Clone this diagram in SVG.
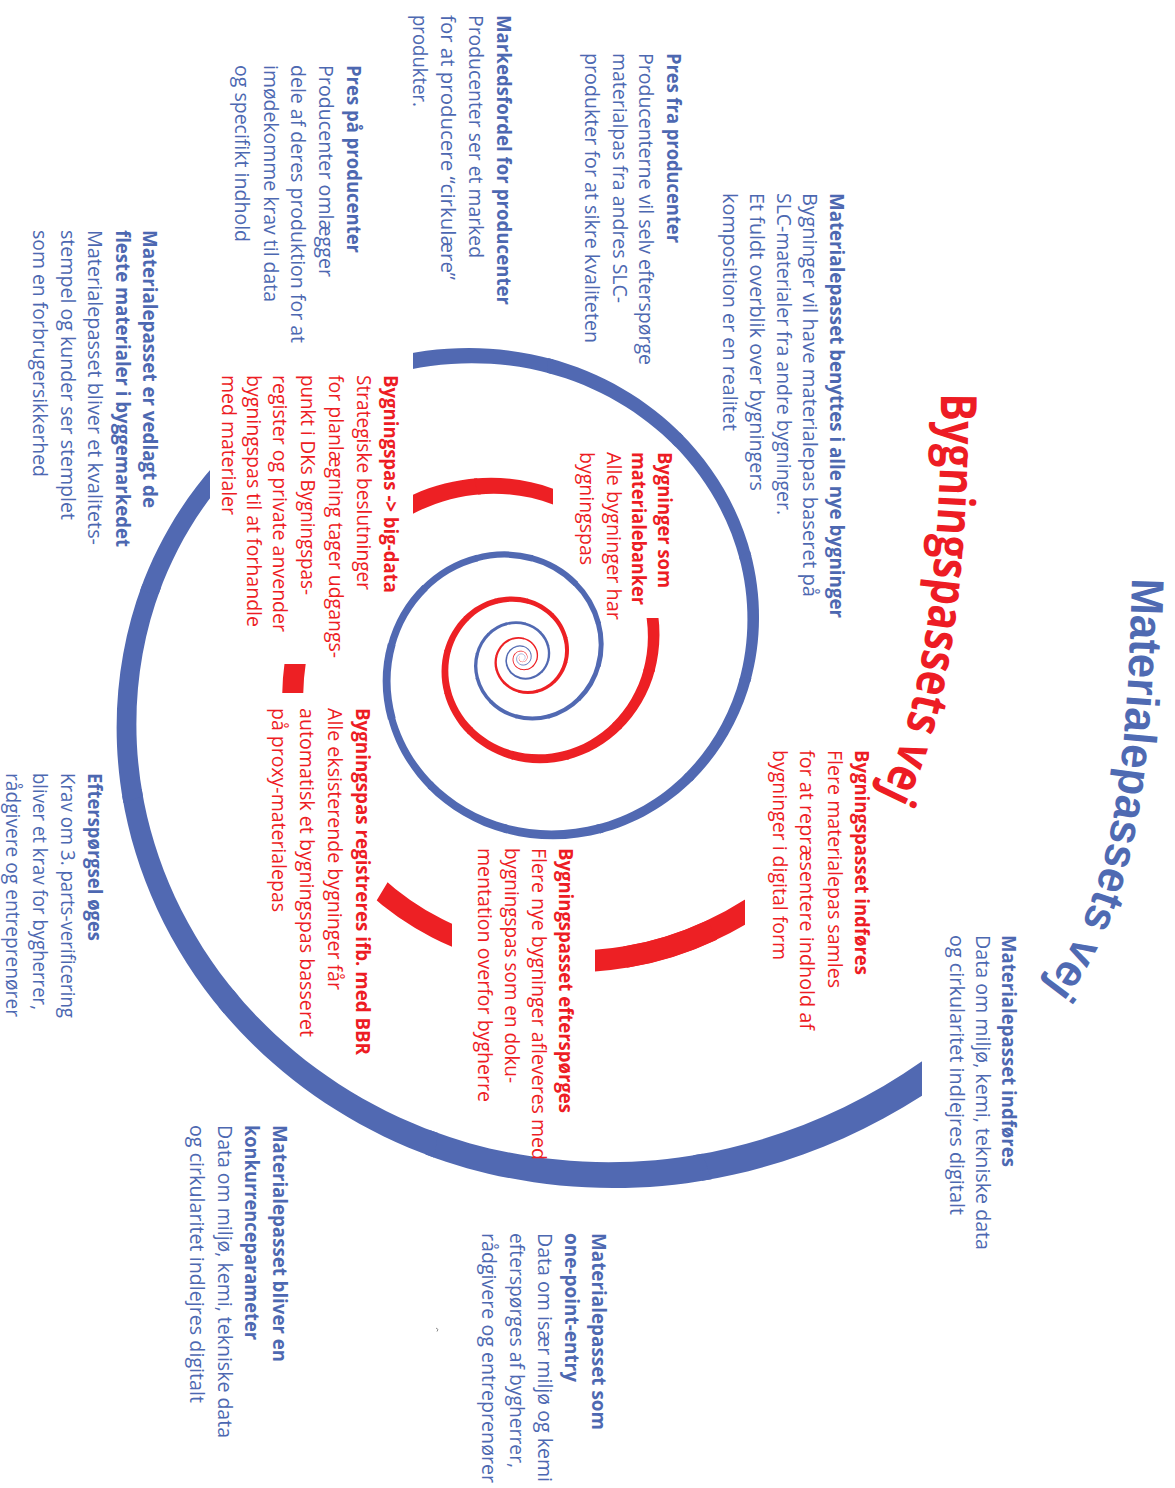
<svg xmlns="http://www.w3.org/2000/svg" width="1175" height="1488" viewBox="0 0 1175 1488">
<style>
text{font-family:"Open Sans","Liberation Sans",sans-serif;font-size:20px}
.tb{fill:#4d68b1}.tr{fill:#ed1c24}.b{font-weight:bold}
.sb{stroke:#5169b2;fill:none}.sr{stroke:#ed2024;fill:none}
.fb{fill:#5169b2;stroke:none}.fr{fill:#ed2024;stroke:none}
.t1{font-family:"Liberation Sans","Open Sans",sans-serif;font-size:46px;font-weight:bold;fill:#4f6ab2}.t2{font-size:50px;font-weight:bold;fill:#ed1c24}
</style>
<defs>
<path id="s" d="M1,0 C0.96921,0.18035 0.89030,0.34310 0.78155,0.46960"/>
<path id="f5" d="M1.025,0 C0.99344,0.18486 0.91256,0.35168 0.80109,0.48134 L0.76201,0.45786 C0.86804,0.33452 0.94498,0.17584 0.975,0 Z"/>
<path id="f8" d="M1.044,0 C1.01186,0.18829 0.92947,0.35820 0.81594,0.49026 L0.74716,0.44894 C0.85113,0.32800 0.92656,0.17241 0.956,0 Z"/>
<path id="f9" d="M1.046,0 C1.01379,0.18865 0.93125,0.35888 0.81750,0.49120 L0.74560,0.44800 C0.84935,0.32732 0.92463,0.17205 0.954,0 Z"/>
<path id="tpB" d="M1132,578 C1127,758 1117,900 1040,992"/>
<path id="tpR" d="M941,393 C941,560 925,710 877,800"/>
<clipPath id="cA"><path d="M0,0H210V500H922V1488H0Z"/></clipPath>
<clipPath id="cB"><path d="M413,0H1175V1488H0V420H413Z"/></clipPath>
<clipPath id="c1"><rect x="595" y="0" width="150" height="1488"/></clipPath>
<clipPath id="c2"><path d="M452,700V1000L316,1001L430,812Z"/></clipPath>
<clipPath id="c3"><rect x="200" y="664" width="200" height="29"/></clipPath>
<clipPath id="c4"><rect x="413" y="0" width="140" height="600"/></clipPath>
<clipPath id="c5"><path d="M0,0H600V618H1175V1488H0Z"/></clipPath>
</defs>
<rect width="1175" height="1488" fill="#ffffff"/>
<g id="spiral">
<g id="blueA" clip-path="url(#cA)"><g class="fb" transform="translate(522 658)">
<use href="#f5" transform="rotate(40) scale(591.69)"/>
<use href="#f5" transform="rotate(70) scale(541.09)"/>
<use href="#f5" transform="rotate(100) scale(494.82)"/>
<use href="#f5" transform="rotate(130) scale(452.5)"/>
<use href="#f5" transform="rotate(160) scale(413.8)"/>
<use href="#f5" transform="rotate(190) scale(378.41)"/>
</g></g>
<g id="blueB" clip-path="url(#cB)"><g transform="translate(522 658)">
<g class="fb">
<use href="#f5" transform="rotate(245) scale(321.2)"/>
<use href="#f5" transform="rotate(275) scale(293.73)"/>
<use href="#f5" transform="rotate(305) scale(268.61)"/>
<use href="#f5" transform="rotate(335) scale(245.64)"/>
<use href="#f5" transform="rotate(365) scale(224.63)"/>
<use href="#f5" transform="rotate(395) scale(205.42)"/>
<use href="#f5" transform="rotate(425) scale(187.85)"/>
<use href="#f5" transform="rotate(455) scale(171.79)"/>
<use href="#f5" transform="rotate(485) scale(157.1)"/>
</g>
<g class="sb">
<use href="#s" transform="rotate(515) scale(143.67)" stroke-width="0.0548"/>
<use href="#s" transform="rotate(545) scale(131.38)" stroke-width="0.0554"/>
<use href="#s" transform="rotate(575) scale(120.14)" stroke-width="0.0561"/>
<use href="#s" transform="rotate(605) scale(109.87)" stroke-width="0.0569"/>
<use href="#s" transform="rotate(635) scale(100.47)" stroke-width="0.0578"/>
<use href="#s" transform="rotate(665) scale(91.88)" stroke-width="0.0587"/>
<use href="#s" transform="rotate(695) scale(84.02)" stroke-width="0.0597"/>
<use href="#s" transform="rotate(725) scale(76.83)" stroke-width="0.0608"/>
<use href="#s" transform="rotate(755) scale(70.26)" stroke-width="0.062"/>
<use href="#s" transform="rotate(785) scale(64.25)" stroke-width="0.0634"/>
<use href="#s" transform="rotate(815) scale(58.76)" stroke-width="0.0648"/>
<use href="#s" transform="rotate(845) scale(53.73)" stroke-width="0.0664"/>
<use href="#s" transform="rotate(875) scale(49.14)" stroke-width="0.0682"/>
<use href="#s" transform="rotate(905) scale(44.94)" stroke-width="0.0701"/>
<use href="#s" transform="rotate(935) scale(41.1)" stroke-width="0.0721"/>
<use href="#s" transform="rotate(965) scale(37.59)" stroke-width="0.0744"/>
<use href="#s" transform="rotate(995) scale(34.38)" stroke-width="0.0769"/>
<use href="#s" transform="rotate(1025) scale(31.44)" stroke-width="0.0796"/>
<use href="#s" transform="rotate(1055) scale(28.75)" stroke-width="0.0826"/>
<use href="#s" transform="rotate(1085) scale(26.29)" stroke-width="0.0858"/>
<use href="#s" transform="rotate(1115) scale(24.04)" stroke-width="0.0894"/>
<use href="#s" transform="rotate(1145) scale(21.98)" stroke-width="0.0933"/>
<use href="#s" transform="rotate(1175) scale(20.1)" stroke-width="0.095"/>
<use href="#s" transform="rotate(1205) scale(18.38)" stroke-width="0.095"/>
<use href="#s" transform="rotate(1235) scale(16.81)" stroke-width="0.095"/>
<use href="#s" transform="rotate(1265) scale(15.37)" stroke-width="0.095"/>
<use href="#s" transform="rotate(1295) scale(14.06)" stroke-width="0.095"/>
<use href="#s" transform="rotate(1325) scale(12.86)" stroke-width="0.095"/>
<use href="#s" transform="rotate(1355) scale(11.76)" stroke-width="0.095"/>
<use href="#s" transform="rotate(1385) scale(10.75)" stroke-width="0.095"/>
<use href="#s" transform="rotate(1415) scale(9.83)" stroke-width="0.095"/>
<use href="#s" transform="rotate(1445) scale(8.99)" stroke-width="0.095"/>
<use href="#s" transform="rotate(1475) scale(8.22)" stroke-width="0.095"/>
<use href="#s" transform="rotate(1505) scale(7.52)" stroke-width="0.095"/>
<use href="#s" transform="rotate(1535) scale(6.88)" stroke-width="0.095"/>
<use href="#s" transform="rotate(1565) scale(6.29)" stroke-width="0.095"/>
<use href="#s" transform="rotate(1595) scale(5.75)" stroke-width="0.095"/>
<use href="#s" transform="rotate(1625) scale(5.26)" stroke-width="0.095"/>
<use href="#s" transform="rotate(1655) scale(4.81)" stroke-width="0.095"/>
<use href="#s" transform="rotate(1685) scale(4.4)" stroke-width="0.095"/>
<use href="#s" transform="rotate(1715) scale(4.02)" stroke-width="0.095"/>
<use href="#s" transform="rotate(1745) scale(3.68)" stroke-width="0.095"/>
<use href="#s" transform="rotate(1775) scale(3.37)" stroke-width="0.095"/>
<use href="#s" transform="rotate(1805) scale(3.08)" stroke-width="0.095"/>
<use href="#s" transform="rotate(1835) scale(2.82)" stroke-width="0.095"/>
</g>
</g></g>
<g id="red1" clip-path="url(#c1)"><g class="sr" transform="translate(522 658)">
<use href="#s" transform="rotate(40) scale(347)" stroke-width="0.062"/>
<use href="#s" transform="rotate(55) scale(331.9)" stroke-width="0.065"/>
</g></g>
<g id="red2" clip-path="url(#c2)"><g class="sr" transform="translate(522 658)">
<use href="#s" transform="rotate(92) scale(296.7)" stroke-width="0.0708"/>
</g></g>
<g id="red3" clip-path="url(#c3)"><g class="sr" transform="translate(522 658)">
<use href="#s" transform="rotate(160) scale(239.7)" stroke-width="0.0876"/>
</g></g>
<g id="red4" clip-path="url(#c4)"><g class="fr" transform="translate(522 658)">
<use href="#f9" transform="rotate(225) scale(194.15)"/>
<use href="#f9" transform="rotate(255) scale(177.55)"/>
</g></g>
<g id="red5" clip-path="url(#c5)"><g class="fr" transform="translate(522 658)">
<use href="#f8" transform="rotate(335) scale(139.89)"/>
<use href="#f8" transform="rotate(365) scale(127.93)"/>
<use href="#f8" transform="rotate(395) scale(116.99)"/>
<use href="#f8" transform="rotate(425) scale(106.99)"/>
<use href="#f8" transform="rotate(455) scale(97.84)"/>
<use href="#f8" transform="rotate(485) scale(89.47)"/>
<use href="#f8" transform="rotate(515) scale(81.82)"/>
<use href="#f8" transform="rotate(545) scale(74.82)"/>
<use href="#f8" transform="rotate(575) scale(68.42)"/>
<use href="#f8" transform="rotate(605) scale(62.57)"/>
<use href="#f8" transform="rotate(635) scale(57.22)"/>
<use href="#f8" transform="rotate(665) scale(52.33)"/>
<use href="#f8" transform="rotate(695) scale(47.85)"/>
<use href="#f8" transform="rotate(725) scale(43.76)"/>
<use href="#f8" transform="rotate(755) scale(40.02)"/>
<use href="#f8" transform="rotate(785) scale(36.6)"/>
<use href="#f8" transform="rotate(815) scale(33.47)"/>
<use href="#f8" transform="rotate(845) scale(30.61)"/>
<use href="#f8" transform="rotate(875) scale(27.99)"/>
<use href="#f8" transform="rotate(905) scale(25.6)"/>
<use href="#f8" transform="rotate(935) scale(23.41)"/>
<use href="#f8" transform="rotate(965) scale(21.41)"/>
<use href="#f8" transform="rotate(995) scale(19.58)"/>
<use href="#f8" transform="rotate(1025) scale(17.91)"/>
<use href="#f8" transform="rotate(1055) scale(16.38)"/>
<use href="#f8" transform="rotate(1085) scale(14.98)"/>
<use href="#f8" transform="rotate(1115) scale(13.7)"/>
<use href="#f8" transform="rotate(1145) scale(12.53)"/>
<use href="#f8" transform="rotate(1175) scale(11.46)"/>
<use href="#f8" transform="rotate(1205) scale(10.48)"/>
<use href="#f8" transform="rotate(1235) scale(9.58)"/>
<use href="#f8" transform="rotate(1265) scale(8.76)"/>
<use href="#f8" transform="rotate(1295) scale(8.01)"/>
<use href="#f8" transform="rotate(1325) scale(7.33)"/>
<use href="#f8" transform="rotate(1355) scale(6.7)"/>
<use href="#f8" transform="rotate(1385) scale(6.13)"/>
<use href="#f8" transform="rotate(1415) scale(5.61)"/>
<use href="#f8" transform="rotate(1445) scale(5.13)"/>
<use href="#f8" transform="rotate(1475) scale(4.69)"/>
<use href="#f8" transform="rotate(1505) scale(4.29)"/>
<use href="#f8" transform="rotate(1535) scale(3.92)"/>
<use href="#f8" transform="rotate(1565) scale(3.59)"/>
<use href="#f8" transform="rotate(1595) scale(3.28)"/>
<use href="#f8" transform="rotate(1625) scale(3)"/>
</g></g>
</g>
<g id="title-materialepas"><text class="t1"><textPath href="#tpB" textLength="425" lengthAdjust="spacingAndGlyphs">Materialepassets vej</textPath></text></g>
<g id="title-bygningspas"><text class="t2"><textPath href="#tpR" textLength="410" lengthAdjust="spacingAndGlyphs">Bygningspassets vej</textPath></text></g>
<g id="n-mi"><text class="tb" transform="translate(1002 935) rotate(90)">
<tspan x="0" y="0" class="b" textLength="232" lengthAdjust="spacingAndGlyphs">Materialepasset indføres</tspan>
<tspan x="0" y="26" textLength="315" lengthAdjust="spacingAndGlyphs">Data om miljø, kemi, tekniske data</tspan>
<tspan x="0" y="52" textLength="280" lengthAdjust="spacingAndGlyphs">og cirkularitet indlejres digitalt</tspan>
</text></g>
<g id="n-bi"><text class="tr" transform="translate(855 750) rotate(90)">
<tspan x="0" y="0" class="b" textLength="225" lengthAdjust="spacingAndGlyphs">Bygningspasset indføres</tspan>
<tspan x="0" y="27" textLength="238" lengthAdjust="spacingAndGlyphs">Flere materialepas samles</tspan>
<tspan x="0" y="55" textLength="280" lengthAdjust="spacingAndGlyphs">for at repræsentere indhold af</tspan>
<tspan x="0" y="82" textLength="210" lengthAdjust="spacingAndGlyphs">bygninger i digital form</tspan>
</text></g>
<g id="n-mb"><text class="tb" transform="translate(830 193) rotate(90)">
<tspan x="0" y="0" class="b" textLength="425" lengthAdjust="spacingAndGlyphs">Materialepasset benyttes i alle nye bygninger</tspan>
<tspan x="0" y="27" textLength="404" lengthAdjust="spacingAndGlyphs">Bygninger vil have materialepas baseret på</tspan>
<tspan x="0" y="53" textLength="322" lengthAdjust="spacingAndGlyphs">SLC-materialer fra andre bygninger.</tspan>
<tspan x="0" y="80" textLength="298" lengthAdjust="spacingAndGlyphs">Et fuldt overblik over bygningers</tspan>
<tspan x="0" y="107" textLength="238" lengthAdjust="spacingAndGlyphs">komposition er en realitet</tspan>
</text></g>
<g id="n-pf"><text class="tb" transform="translate(667 53) rotate(90)">
<tspan x="0" y="0" class="b" textLength="190" lengthAdjust="spacingAndGlyphs">Pres fra producenter</tspan>
<tspan x="0" y="28" textLength="312" lengthAdjust="spacingAndGlyphs">Producenterne vil selv efterspørge</tspan>
<tspan x="0" y="54" textLength="250" lengthAdjust="spacingAndGlyphs">materialpas fra andres SLC-</tspan>
<tspan x="0" y="82" textLength="290" lengthAdjust="spacingAndGlyphs">produkter for at sikre kvaliteten</tspan>
</text></g>
<g id="n-mf"><text class="tb" transform="translate(497 15) rotate(90)">
<tspan x="0" y="0" class="b" textLength="290" lengthAdjust="spacingAndGlyphs">Markedsfordel for producenter</tspan>
<tspan x="0" y="28" textLength="243" lengthAdjust="spacingAndGlyphs">Producenter ser et marked</tspan>
<tspan x="0" y="56" textLength="265" lengthAdjust="spacingAndGlyphs">for at producere “cirkulære”</tspan>
<tspan x="0" y="84" textLength="92" lengthAdjust="spacingAndGlyphs">produkter.</tspan>
</text></g>
<g id="n-pp"><text class="tb" transform="translate(347 65) rotate(90)">
<tspan x="0" y="0" class="b" textLength="188" lengthAdjust="spacingAndGlyphs">Pres på producenter</tspan>
<tspan x="0" y="28" textLength="212" lengthAdjust="spacingAndGlyphs">Producenter omlægger</tspan>
<tspan x="0" y="56" textLength="278" lengthAdjust="spacingAndGlyphs">dele af deres produktion for at</tspan>
<tspan x="0" y="83" textLength="237" lengthAdjust="spacingAndGlyphs">imødekomme krav til data</tspan>
<tspan x="0" y="112" textLength="177" lengthAdjust="spacingAndGlyphs">og specifikt indhold</tspan>
</text></g>
<g id="n-mv"><text class="tb" transform="translate(143 230) rotate(90)">
<tspan x="0" y="0" class="b" textLength="278" lengthAdjust="spacingAndGlyphs">Materialepasset er vedlagt de</tspan>
<tspan x="0" y="27" class="b" textLength="317" lengthAdjust="spacingAndGlyphs">fleste materialer i byggemarkedet</tspan>
<tspan x="0" y="55" textLength="315" lengthAdjust="spacingAndGlyphs">Materialepasset bliver et kvalitets-</tspan>
<tspan x="0" y="82" textLength="290" lengthAdjust="spacingAndGlyphs">stempel og kunder ser stemplet</tspan>
<tspan x="0" y="110" textLength="247" lengthAdjust="spacingAndGlyphs">som en forbrugersikkerhed</tspan>
</text></g>
<g id="n-bd"><text class="tr" transform="translate(384 375) rotate(90)">
<tspan x="0" y="0" class="b" textLength="218" lengthAdjust="spacingAndGlyphs">Bygningspas -&gt; big-data</tspan>
<tspan x="0" y="27" textLength="215" lengthAdjust="spacingAndGlyphs">Strategiske beslutninger</tspan>
<tspan x="0" y="55" textLength="283" lengthAdjust="spacingAndGlyphs">for planlægning tager udgangs-</tspan>
<tspan x="0" y="83" textLength="220" lengthAdjust="spacingAndGlyphs">punkt i DKs Bygningspas-</tspan>
<tspan x="0" y="111" textLength="257" lengthAdjust="spacingAndGlyphs">register og private anvender</tspan>
<tspan x="0" y="137" textLength="252" lengthAdjust="spacingAndGlyphs">bygningspas til at forhandle</tspan>
<tspan x="0" y="162" textLength="140" lengthAdjust="spacingAndGlyphs">med materialer</tspan>
</text></g>
<g id="n-bm"><text class="tr" transform="translate(658 452) rotate(90)">
<tspan x="0" y="0" class="b" textLength="136" lengthAdjust="spacingAndGlyphs">Bygninger som</tspan>
<tspan x="0" y="26" class="b" textLength="153" lengthAdjust="spacingAndGlyphs">materialebanker</tspan>
<tspan x="0" y="51" textLength="168" lengthAdjust="spacingAndGlyphs">Alle bygninger har</tspan>
<tspan x="0" y="78" textLength="113" lengthAdjust="spacingAndGlyphs">bygningspas</tspan>
</text></g>
<g id="n-be"><text class="tr" transform="translate(559 848) rotate(90)">
<tspan x="0" y="0" class="b" textLength="265" lengthAdjust="spacingAndGlyphs">Bygningspasset efterspørges</tspan>
<tspan x="0" y="27" textLength="312" lengthAdjust="spacingAndGlyphs">Flere nye bygninger afleveres med</tspan>
<tspan x="0" y="54" textLength="235" lengthAdjust="spacingAndGlyphs">bygningspas som en doku-</tspan>
<tspan x="0" y="81" textLength="254" lengthAdjust="spacingAndGlyphs">mentation overfor bygherre</tspan>
</text></g>
<g id="n-bbr"><text class="tr" transform="translate(356 708) rotate(90)">
<tspan x="0" y="0" class="b" textLength="347" lengthAdjust="spacingAndGlyphs">Bygningspas registreres ifb. med BBR</tspan>
<tspan x="0" y="28" textLength="282" lengthAdjust="spacingAndGlyphs">Alle eksisterende bygninger får</tspan>
<tspan x="0" y="56" textLength="329" lengthAdjust="spacingAndGlyphs">automatisk et bygningspas basseret</tspan>
<tspan x="0" y="84" textLength="204" lengthAdjust="spacingAndGlyphs">på proxy-materialepas</tspan>
</text></g>
<g id="n-eo"><text class="tb" transform="translate(88 773) rotate(90)">
<tspan x="0" y="0" class="b" textLength="168" lengthAdjust="spacingAndGlyphs">Efterspørgsel øges</tspan>
<tspan x="0" y="27" textLength="245" lengthAdjust="spacingAndGlyphs">Krav om 3. parts-verificering</tspan>
<tspan x="0" y="55" textLength="237" lengthAdjust="spacingAndGlyphs">bliver et krav for bygherrer,</tspan>
<tspan x="0" y="82" textLength="244" lengthAdjust="spacingAndGlyphs">rådgivere og entreprenører</tspan>
</text></g>
<g id="n-ope"><text class="tb" transform="translate(592 1233) rotate(90)">
<tspan x="0" y="0" class="b" textLength="197" lengthAdjust="spacingAndGlyphs">Materialepasset som</tspan>
<tspan x="0" y="27" class="b" textLength="149" lengthAdjust="spacingAndGlyphs">one-point-entry</tspan>
<tspan x="0" y="54" textLength="249" lengthAdjust="spacingAndGlyphs">Data om især miljø og kemi</tspan>
<tspan x="0" y="82" textLength="235" lengthAdjust="spacingAndGlyphs">efterspørges af bygherrer,</tspan>
<tspan x="0" y="110" textLength="250" lengthAdjust="spacingAndGlyphs">rådgivere og entreprenører</tspan>
</text></g>
<g id="n-kp"><text class="tb" transform="translate(273 1125) rotate(90)">
<tspan x="0" y="0" class="b" textLength="237" lengthAdjust="spacingAndGlyphs">Materialepasset bliver en</tspan>
<tspan x="0" y="28" class="b" textLength="215" lengthAdjust="spacingAndGlyphs">konkurrenceparameter</tspan>
<tspan x="0" y="55" textLength="313" lengthAdjust="spacingAndGlyphs">Data om miljø, kemi, tekniske data</tspan>
<tspan x="0" y="83" textLength="278" lengthAdjust="spacingAndGlyphs">og cirkularitet indlejres digitalt</tspan>
</text></g>
<path id="mark" d="M436,1328 l2,1.5 l-1,2" stroke="#8a8a8a" fill="none" stroke-width="1"/>
</svg>
